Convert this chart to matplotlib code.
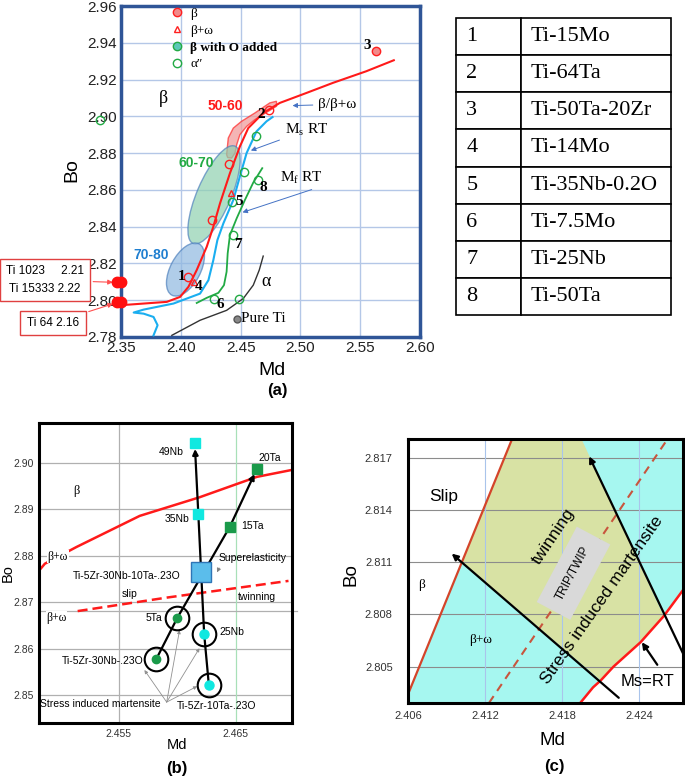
import matplotlib.pyplot as plt
import matplotlib.transforms as mtransforms
from matplotlib.patches import Ellipse
from matplotlib.lines import Line2D

plt.rcParams['font.family'] = ['Liberation Sans', 'DejaVu Sans']
SERIF = ['Liberation Serif', 'DejaVu Serif']

# ---------------- panel (a) data ----------------
beta_md = [2.4739, 2.4405, 2.4261, 2.4064]
beta_bo = [2.9036, 2.8742, 2.8436, 2.8127]
beta_fill_md = [2.5634]
beta_fill_bo = [2.9355]
bw_md = [2.4417, 2.4114]
bw_bo = [2.8582, 2.8100]
alpha2_md = [2.4628, 2.4531, 2.4647, 2.4431, 2.4439, 2.4280, 2.4489, 2.3324]
alpha2_bo = [2.8895, 2.8695, 2.8655, 2.8536, 2.8355, 2.8009, 2.8005, 2.8978]
pureti_md = [2.4467]
pureti_bo = [2.7900]
ref_md = [2.3468, 2.3500, 2.3468, 2.3500]
ref_bo = [2.8097, 2.8097, 2.7992, 2.7992]

num_labels = ['1', '2', '3', '4', '5', '6', '7', '8']
num_md = [2.4008, 2.4675, 2.5558, 2.4147, 2.4486, 2.4328, 2.4481, 2.4689]
num_bo = [2.8127, 2.9009, 2.9385, 2.8076, 2.8536, 2.7978, 2.8305, 2.8615]

red_md = [2.3500, 2.3883, 2.3994, 2.4064, 2.4133, 2.4217, 2.4272, 2.4328, 2.4411,
          2.4494, 2.4564, 2.4689, 2.4828, 2.5050, 2.5272, 2.5550, 2.5781]
red_bo = [2.7973, 2.7991, 2.8018, 2.8073, 2.8164, 2.8291, 2.8400, 2.8527, 2.8691,
          2.8836, 2.8936, 2.9018, 2.9073, 2.9127, 2.9182, 2.9245, 2.9305]
ms_md = [2.3772, 2.3806, 2.3772, 2.3689, 2.3606, 2.3689, 2.3939, 2.4161, 2.4231,
         2.4272, 2.4306, 2.4356, 2.4439, 2.4494, 2.4550, 2.4633, 2.4717, 2.4767]
ms_bo = [2.7809, 2.7864, 2.7909, 2.7927, 2.7933, 2.7949, 2.7982, 2.8036, 2.8109,
         2.8218, 2.8327, 2.8418, 2.8545, 2.8673, 2.8800, 2.8918, 2.8973, 2.8996]
mf_md = [2.4133, 2.4217, 2.4314, 2.4361, 2.4383, 2.4392, 2.4411, 2.4467, 2.4536, 2.4606, 2.4681]
mf_bo = [2.7985, 2.8013, 2.8040, 2.8082, 2.8155, 2.8255, 2.8355, 2.8445, 2.8545, 2.8640, 2.8718]
alpha_md = [2.3925, 2.4161, 2.4383, 2.4522, 2.4606, 2.4656, 2.4689]
alpha_bo = [2.7809, 2.7891, 2.7945, 2.8009, 2.8082, 2.8164, 2.8240]

zone5060_md = [2.4383, 2.4397, 2.4439, 2.4508, 2.4619, 2.4744, 2.4800, 2.4800,
               2.4731, 2.4619, 2.4550, 2.4494, 2.4467, 2.4453, 2.4425, 2.4392]
zone5060_bo = [2.8791, 2.8882, 2.8936, 2.8973, 2.9018, 2.9073, 2.9082, 2.9055,
               2.9027, 2.8982, 2.8945, 2.8900, 2.8845, 2.8800, 2.8773, 2.8776]
# ellipses: centre (Md, Bo), length / width in inches, angle
ell_centres = [(2.4278, 2.8573), (2.4039, 2.8167)]
ell_sizes = [(1.06, 0.34, 66.7), (0.58, 0.30, 62)]

alloy_ids = ['1', '2', '3', '4', '5', '6', '7', '8']
alloy_names = ['Ti-15Mo', 'Ti-64Ta', 'Ti-50Ta-20Zr', 'Ti-14Mo', 'Ti-35Nb-0.2O',
               'Ti-7.5Mo', 'Ti-25Nb', 'Ti-50Ta']

# ---------------- panel (b) data ----------------
b_red_md = [2.4482, 2.4487, 2.4514, 2.4568, 2.4619, 2.4668, 2.4698]
b_red_bo = [2.8768, 2.8783, 2.8819, 2.8886, 2.8926, 2.8970, 2.8985]
b_dash_md = [2.4515, 2.4591, 2.4695]
b_dash_bo = [2.8681, 2.8710, 2.8746]
ta_md = [2.4582, 2.4600, 2.4645, 2.4668]
ta_bo = [2.8577, 2.8666, 2.8863, 2.8987]
nb_md = [2.4627, 2.4623, 2.4618, 2.4615]
nb_bo = [2.8522, 2.8632, 2.8891, 2.9042]
super_md = [2.4620]
super_bo = [2.8766]
sim_md = [2.4591]
sim_bo = [2.8485]
sim_target_md = [2.4572, 2.4602, 2.4619, 2.4617]
sim_target_bo = [2.8554, 2.8640, 2.8601, 2.8519]

# ---------------- panel (c) data ----------------
c_left_md = [2.4060, 2.4141]
c_left_bo = [2.8034, 2.8181]
c_ms_md = [2.4194, 2.4204, 2.4210, 2.4220, 2.4241, 2.4259, 2.4275]
c_ms_bo = [2.8029, 2.8038, 2.8042, 2.8050, 2.8064, 2.8079, 2.8095]
c_dash_md = [2.4123, 2.4262]
c_dash_bo = [2.8029, 2.8181]
c_twin_top_md = 2.4195
c_twin_cross = (2.4102, 2.8110)
c_arrow1 = [(2.4224, 2.8032), (2.4094, 2.8115)]
c_arrow2 = [(2.4275, 2.8056), (2.4201, 2.8171)]
c_arrow3 = [(2.4254, 2.8051), (2.4242, 2.8064)]

fig = plt.figure(figsize=(6.85, 7.76), dpi=100)
H = 776.0
W = 685.0


def px_axes(l, t, r, b):
    return fig.add_axes([l / W, 1 - b / H, (r - l) / W, (b - t) / H])


# =============== (a) ===============
ax = px_axes(121, 6, 420, 337)
ax.set_xlim(2.35, 2.60)
ax.set_ylim(2.78, 2.96)
ax.set_xticks([2.35, 2.40, 2.45, 2.50, 2.55, 2.60])
ax.set_yticks([2.78, 2.80, 2.82, 2.84, 2.86, 2.88, 2.90, 2.92, 2.94, 2.96])
ax.set_xticklabels(['%.2f' % v for v in ax.get_xticks()])
ax.set_yticklabels(['%.2f' % v for v in ax.get_yticks()])
ax.tick_params(length=0, labelsize=11, pad=3, colors='#222222')
ax.grid(True, color='#b4c7e7', lw=1)
ax.set_axisbelow(True)
for s in ax.spines.values():
    s.set_color('#2f5597')
    s.set_linewidth(2.5)
ax.set_xlabel('Md', fontsize=14)
ax.set_ylabel('Bo', fontsize=14)
ax.xaxis.set_label_coords(0.505, -0.077)
ax.yaxis.set_label_coords(-0.137, 0.505)

ax.fill(zone5060_md, zone5060_bo, fc='#f19c9c', ec='#ff3030', lw=1, alpha=0.75, zorder=2)
for (cx, cy), (L, Wd, ang), fc in zip(ell_centres, ell_sizes, ['#8fd1b0', '#8fb8e0']):
    tr = fig.dpi_scale_trans + mtransforms.ScaledTranslation(cx, cy, ax.transData)
    ax.add_patch(Ellipse((0, 0), L, Wd, angle=ang, transform=tr, fc=fc, ec='#4f81bd',
                         lw=1, alpha=0.7, zorder=2))

ax.plot(red_md, red_bo, color='#ff1a1a', lw=1.5, zorder=3)
ax.plot(ms_md, ms_bo, color='#1aaef0', lw=1.5, zorder=3)
ax.plot(mf_md, mf_bo, color='#22aa44', lw=1.3, zorder=3)
ax.plot(alpha_md, alpha_bo, color='#333333', lw=1, zorder=3)

h1, = ax.plot(beta_fill_md, beta_fill_bo, 'o', ms=6, mfc='#f28a8a', mec='#ff2020', mew=1, zorder=4)
ax.plot(beta_md, beta_bo, 'o', ms=6, mfc='none', mec='#ff2020', mew=1, zorder=4)
h2, = ax.plot(bw_md, bw_bo, '^', ms=4.5, mfc='none', mec='#ff2020', mew=1, zorder=4)
h4, = ax.plot(alpha2_md, alpha2_bo, 'o', ms=6, mfc='none', mec='#22aa44', mew=1, zorder=4, clip_on=False)
h3 = Line2D([], [], ls='', marker='o', ms=6, mfc='#5cc8b8', mec='#22aa44', mew=1)
ax.plot(pureti_md, pureti_bo, 'o', ms=5, mfc='#888888', mec='#555555', zorder=4)
ax.plot(ref_md, ref_bo, 'o', ms=7.5, color='#ff1010', zorder=5, clip_on=False)

leg = ax.legend([h1, h2, h3, h4], ['β', 'β+ω', 'β with O added', 'α\u02ba'],
                loc='upper left', bbox_to_anchor=(0.165, 0.995), frameon=False,
                prop={'family': SERIF, 'size': 9.5}, handletextpad=0.5,
                labelspacing=0.35, handlelength=1.0, borderpad=0, borderaxespad=0)
leg.get_texts()[2].set_fontweight('bold')

for t, x, y in zip(num_labels, num_md, num_bo):
    ax.text(x, y, t, fontsize=11, fontweight='bold', family=SERIF, ha='center', va='center', zorder=6)

ax.text(2.437, 2.9058, '50-60', color='#ff1a1a', fontsize=10, fontweight='bold', ha='center', va='center')
ax.text(2.4133, 2.8745, '60-70', color='#22aa44', fontsize=10, fontweight='bold', ha='center', va='center')
ax.text(2.3753, 2.8245, '70-80', color='#1f7fd0', fontsize=10, fontweight='bold', ha='center', va='center')
ax.text(2.3856, 2.9096, 'β', family=SERIF, fontsize=13, ha='center', va='center')
ax.text(2.4717, 2.8104, 'α', family=SERIF, fontsize=13, ha='center', va='center')
ax.text(2.4500, 2.7900, 'Pure Ti', family=SERIF, fontsize=11, ha='left', va='center')
arrow_blue = dict(arrowstyle='-|>', color='#4472c4', lw=0.7, mutation_scale=7)
ax.annotate('β/β+ω', xy=(2.4911, 2.9058), xytext=(2.5150, 2.9065), family=SERIF, fontsize=11,
            ha='left', va='center', arrowprops=arrow_blue)
ax.annotate('M$_\\mathregular{s}$ RT', xy=(2.4564, 2.8809), xytext=(2.4870, 2.8927), family=SERIF,
            fontsize=11, ha='left', va='center', arrowprops=dict(arrow_blue, relpos=(0, 0)))
ax.annotate('M$_\\mathregular{f}$ RT', xy=(2.4494, 2.8473), xytext=(2.4830, 2.8667), family=SERIF,
            fontsize=11, ha='left', va='center', arrowprops=dict(arrow_blue, relpos=(1, 0)))

box = dict(boxstyle='square,pad=0.5', fc='white', ec='#e04040', lw=1)
red_arrow = dict(arrowstyle='-|>', color='#ff5050', lw=0.8, mutation_scale=7)
ax.annotate('Ti 1023     2.21\nTi 15333 2.22', xy=(2.3455, 2.8097), xycoords='data',
            xytext=(45, H - 280), textcoords='figure pixels', ha='center', va='center',
            fontsize=8.5, linespacing=1.6, bbox=box, arrowprops=red_arrow, annotation_clip=False)
ax.annotate('Ti 64 2.16', xy=(2.3455, 2.7985), xytext=(53, H - 323), xycoords='data',
            textcoords='figure pixels', ha='center', va='center',
            fontsize=8.5, bbox=dict(box, boxstyle='square,pad=0.55'), arrowprops=red_arrow,
            annotation_clip=False)
fig.text(277 / W, 1 - 390 / H, '(a)', fontsize=12, fontweight='bold', ha='center', va='center')

# table
axt = px_axes(456, 18, 671, 315)
axt.axis('off')
tab = axt.table(cellText=[[i, n] for i, n in zip(alloy_ids, alloy_names)],
                colWidths=[0.3, 0.7], bbox=[0, 0, 1, 1], cellLoc='left')
tab.auto_set_font_size(False)
for (r, c), cell in tab.get_celld().items():
    cell.set_linewidth(1.2)
    cell.get_text().set_fontfamily(SERIF)
    cell.get_text().set_fontsize(16)
    cell.PAD = 0.16 if c == 0 else 0.066

# =============== (b) ===============
bx = px_axes(39, 423, 292, 723)
bx.set_xlim(2.4482, 2.4698)
bx.set_ylim(2.844, 2.9086)
bx.set_xticks([2.455, 2.465])
bx.set_xticklabels(['2.455', '2.465'])
bx.set_yticks([2.85, 2.86, 2.87, 2.88, 2.89, 2.90])
bx.set_yticklabels(['2.85', '2.86', '2.87', '2.88', '2.89', '2.90'])
bx.tick_params(length=0, labelsize=7.5, pad=4, colors='#333333')
for v in bx.get_yticks():
    bx.axhline(v, color='#b0b0b0', lw=0.9, zorder=0)
bx.axvline(2.455, color='#b0b0b0', lw=0.9, zorder=0)
bx.axvline(2.465, color='#a8e0b8', lw=0.9, zorder=0)
bx.plot([2.4482, 2.4702], [2.8682, 2.8682], color='#b0b0b0', lw=0.9, zorder=0, clip_on=False)
for s in bx.spines.values():
    s.set_linewidth(2.2)
bx.set_xlabel('Md', fontsize=10.5)
bx.set_ylabel('Bo', fontsize=10.5)
bx.xaxis.set_label_coords(0.545, -0.05)
bx.yaxis.set_label_coords(-0.095, 0.5)

bx.plot(b_red_md, b_red_bo, color='#ff1a1a', lw=1.8, zorder=2)
bx.plot(b_dash_md, b_dash_bo, color='#ff1a1a', lw=1.8, ls=(0, (4, 2)), zorder=2)

bx.plot(ta_md[:3], ta_bo[:3], color='black', lw=1.6, zorder=3)
bx.annotate('', xy=(ta_md[3], ta_bo[3]), xytext=(ta_md[2], ta_bo[2]),
            arrowprops=dict(arrowstyle='-|>', color='black', lw=1.6, mutation_scale=8, shrinkA=0, shrinkB=4))
bx.plot(nb_md[:3], nb_bo[:3], color='black', lw=1.6, zorder=3)
bx.annotate('', xy=(nb_md[3], nb_bo[3]), xytext=(nb_md[2], nb_bo[2]),
            arrowprops=dict(arrowstyle='-|>', color='black', lw=1.6, mutation_scale=8, shrinkA=0, shrinkB=4))

bx.plot(ta_md[:2], ta_bo[:2], 'o', ms=17, mfc='none', mec='black', mew=1.5, zorder=4)
bx.plot(nb_md[:2], nb_bo[:2], 'o', ms=17, mfc='none', mec='black', mew=1.5, zorder=4)
bx.plot(ta_md[:2], ta_bo[:2], 'o', ms=6, color='#1a9a4a', zorder=5)
bx.plot(nb_md[:2], nb_bo[:2], 'o', ms=6.5, color='#10e8e0', zorder=5)
bx.plot(ta_md[2:], ta_bo[2:], 's', ms=6.5, color='#1a9a4a', zorder=5)
bx.plot(nb_md[2:], nb_bo[2:], 's', ms=6.5, color='#10e8e0', zorder=5)
bx.plot(super_md, super_bo, 's', ms=14, mfc='#5bbdeb', mec='#2e75b6', mew=1, zorder=4)

fs = 7.5
wbg = dict(fc='white', ec='none', pad=0.5)
bx.text(2.4514, 2.8940, 'β', family=SERIF, fontsize=9, ha='center', va='center')
bx.text(2.4498, 2.8798, 'β+ω', family=SERIF, fontsize=8.5, ha='center', va='center', bbox=wbg)
bx.text(2.4497, 2.8666, 'β+ω', family=SERIF, fontsize=8.5, ha='center', va='center', bbox=wbg)
bx.text(2.4559, 2.8718, 'slip', fontsize=fs, ha='center', va='center')
bx.text(2.4668, 2.8712, 'twinning', fontsize=fs, ha='center', va='center')
bx.text(2.4557, 2.8757, 'Ti-5Zr-30Nb-10Ta-.23O', fontsize=fs, ha='center', va='center')
bx.text(2.4595, 2.9024, '49Nb', fontsize=fs, ha='center', va='center')
bx.text(2.4679, 2.9011, '20Ta', fontsize=fs, ha='center', va='center')
bx.text(2.4600, 2.8880, '35Nb', fontsize=fs, ha='center', va='center')
bx.text(2.4664, 2.8865, '15Ta', fontsize=fs, ha='center', va='center')
bx.text(2.4580, 2.8666, '5Ta', fontsize=fs, ha='center', va='center')
bx.text(2.4647, 2.8636, '25Nb', fontsize=fs, ha='center', va='center')
bx.text(2.4536, 2.8574, 'Ti-5Zr-30Nb-.23O', fontsize=fs, ha='center', va='center')
bx.text(2.4634, 2.8477, 'Ti-5Zr-10Ta-.23O', fontsize=fs, ha='center', va='center')
bx.annotate('Superelasticity', xy=(2.4633, 2.8759), xytext=(2.4664, 2.8796), fontsize=fs,
            ha='center', va='center',
            arrowprops=dict(arrowstyle='-|>', color='#808080', lw=0.6, mutation_scale=6, relpos=(0.05, 0)))
bx.text(2.4534, 2.8481, 'Stress induced martensite', fontsize=fs, ha='center', va='center')
for tx, ty in zip(sim_target_md, sim_target_bo):
    bx.annotate('', xy=(tx, ty), xytext=(sim_md[0], sim_bo[0]),
                arrowprops=dict(arrowstyle='-|>', color='#909090', lw=0.6, mutation_scale=5,
                                shrinkA=0, shrinkB=0))
fig.text(177 / W, 1 - 768 / H, '(b)', fontsize=12, fontweight='bold', ha='center', va='center')

# =============== (c) ===============
cx_ = px_axes(408, 439, 683, 703)
cx_.set_xlim(2.406, 2.4274)
cx_.set_ylim(2.8029, 2.8181)
cx_.set_xticks([2.406, 2.412, 2.418, 2.424])
cx_.set_xticklabels(['2.406', '2.412', '2.418', '2.424'])
cx_.set_yticks([2.805, 2.808, 2.811, 2.814, 2.817])
cx_.set_yticklabels(['2.805', '2.808', '2.811', '2.814', '2.817'])
cx_.tick_params(axis='y', length=0, labelsize=8, pad=11, colors='#333333')
cx_.tick_params(axis='x', length=0, labelsize=8, pad=6, colors='#333333')
for s in cx_.spines.values():
    s.set_linewidth(2.2)
cx_.set_xlabel('Md', fontsize=13.5)
cx_.set_ylabel('Bo', fontsize=13.5)
cx_.xaxis.set_label_coords(0.527, -0.11)
cx_.yaxis.set_label_coords(-0.175, 0.485)

cyan_poly = ([c_left_md[0], c_left_md[1], 2.4274, 2.4274] + c_ms_md[::-1] + [2.4060],
             [c_left_bo[0], c_left_bo[1], 2.8181, c_ms_bo[-1]] + c_ms_bo[::-1] + [2.8029])
cx_.fill(cyan_poly[0], cyan_poly[1], color='#a6f7f0', lw=0, zorder=0)
yellow_poly = ([c_twin_cross[0], c_left_md[1], c_twin_top_md] + c_ms_md[5:1:-1],
               [c_twin_cross[1], c_left_bo[1], 2.8181] + c_ms_bo[5:1:-1])
cx_.fill(yellow_poly[0], yellow_poly[1], color='#d8e2a4', lw=0, zorder=0.5)
for v in cx_.get_yticks():
    cx_.axhline(v, color='#8c8c8c', lw=0.8, zorder=1)
for v in cx_.get_xticks():
    cx_.axvline(v, color='#a9c4eb', lw=0.8, zorder=1)

cx_.plot(c_left_md, c_left_bo, color='#d4442a', lw=1.6, zorder=2)
cx_.plot(c_ms_md, c_ms_bo, color='#ff1a1a', lw=1.8, zorder=2)
cx_.plot(c_dash_md, c_dash_bo, color='#c8553d', lw=1.5, ls=(0, (4, 3)), zorder=2)
for a in [c_arrow1, c_arrow2, c_arrow3]:
    cx_.annotate('', xy=a[1], xytext=a[0],
                 arrowprops=dict(arrowstyle='-|>', color='black', lw=1.6, mutation_scale=9,
                                 shrinkA=0, shrinkB=0))

cx_.text(2.40875, 2.81478, 'Slip', fontsize=12.5, ha='center', va='center')
cx_.text(2.40707, 2.80969, 'β', family=SERIF, fontsize=9.5, ha='center', va='center')
cx_.text(2.41161, 2.80652, 'β+ω', family=SERIF, fontsize=9.5, ha='center', va='center')
cx_.text(2.42460, 2.80411, 'Ms=RT', fontsize=12, ha='center', va='center')
cx_.text(2.41733, 2.81248, 'twinning', fontsize=12.5, rotation=56, ha='center', va='center',
         rotation_mode='anchor', zorder=3)
cx_.text(2.41888, 2.81037, 'TRIP/TWIP', fontsize=8.5, rotation=62, ha='center', va='center',
         rotation_mode='anchor', zorder=3,
         bbox=dict(boxstyle='square,pad=1.1', fc='#d9d9d9', ec='none'))
cx_.text(2.42109, 2.80882, 'Stress induced martensite', fontsize=12.5, rotation=55,
         ha='center', va='center', rotation_mode='anchor', zorder=3)
fig.text(554 / W, 1 - 767 / H, '(c)', fontsize=12, fontweight='bold', ha='center', va='center')

fig.savefig('out.png', dpi=100)
